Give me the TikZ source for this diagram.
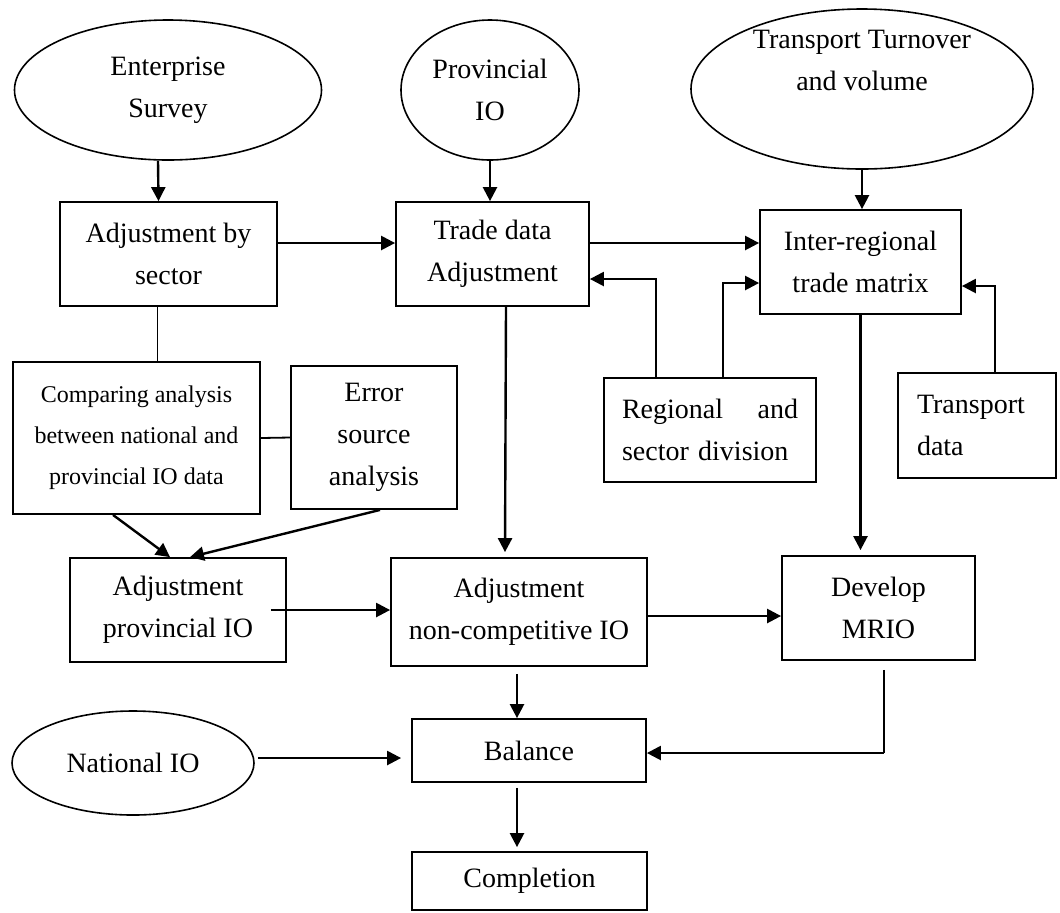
\documentclass[tikz,border=0pt]{standalone}
\usepackage{fontspec}
\setmainfont{Liberation Serif}
\usetikzlibrary{shapes}
\usetikzlibrary{arrows.meta}

\begin{document}
\begin{tikzpicture}[x=0.5pt,y=-0.5pt,
	box/.style={rectangle,draw,line width=0.9pt,inner sep=0pt,align=center,font=\fontsize{14}{21}\selectfont},
	oval/.style={ellipse,draw,line width=0.8pt,inner sep=0pt,align=center,font=\fontsize{14}{21}\selectfont},
	arr/.style={line width=1.2pt,-{Triangle[length=7pt,width=7pt]}},
	link/.style={line width=0.9pt}
	]
	\useasboundingbox (0,0) rectangle (1060,912);
	\node[oval,minimum width=153.5pt,minimum height=70pt](es) at (168,90) {Enterprise\\Survey};
	\node[oval,minimum width=89pt,minimum height=70pt](pio) at (490,90) {Provincial\\IO};
	\node[oval,minimum width=171pt,minimum height=80pt](tt) at (862,89) {};
	\node[align=center,font=\fontsize{14}{21}\selectfont](tttext) at (862,60) {Transport Turnover\\and volume};
	\node[box,minimum width=108.5pt,minimum height=52pt](sector) at (168.5,254) {Adjustment by\\sector};
	\node[box,minimum width=96.5pt,minimum height=52pt](trade) at (492.5,254) {Trade data\\Adjustment};
	\node[box,minimum width=100.5pt,minimum height=52pt](irt) at (860.5,262) {Inter-regional\\trade matrix};
	\node[box,minimum width=123.5pt,minimum height=76pt,font=\fontsize{12}{20.5}\selectfont](comp) at (136.5,438) {Comparing analysis\\between national and\\provincial IO data};
	\node[box,minimum width=83pt,minimum height=71.5pt](err) at (374,437.5) {Error\\source\\analysis};
	\node[box,minimum width=106pt,minimum height=52pt,text width=88pt,align=left](reg) at (710,430) {\makebox[88pt][l]{Regional\hfill and}\\sector division};
	\node[box,minimum width=79pt,minimum height=52.5pt,text width=60pt,align=left](tdat) at (977,425.5) {Transport\\data};
	\node[box,minimum width=108pt,minimum height=52pt](prov) at (178,610) {Adjustment\\provincial IO};
	\node[box,minimum width=128pt,minimum height=54pt](ncomp) at (519,612) {Adjustment\\non-competitive IO};
	\node[box,minimum width=96.5pt,minimum height=52pt](mrio) at (878.5,608) {Develop\\MRIO};
	\node[oval,minimum width=121pt,minimum height=52pt](nio) at (133,763) {National IO};
	\node[box,minimum width=117pt,minimum height=31.5pt](bal) at (529,750.5) {Balance};
	\node[box,minimum width=117.5pt,minimum height=29pt](compl) at (529.5,881) {Completion};

	\draw[arr] ([xshift=-5pt]es.south) -- ([xshift=-5pt]sector.north);
	\draw[arr] (pio.south) -- (pio.south |- trade.north);
	\draw[arr] (tt.south) -- (tt.south |- irt.north);
	\draw[arr] ([yshift=5.5pt]sector.east) -- ([yshift=5.5pt]trade.west);
	\draw[arr] ([yshift=5.5pt]trade.east) -- ([yshift=5.5pt]trade.east -| irt.west);
	\draw[link] ([xshift=-5.5pt]sector.south) -- ([xshift=-5.5pt]sector.south |- comp.north);
	\draw[link] (comp.east) -- (err.west);
	\draw[arr] ([xshift=-11.75pt]comp.south) -- ([xshift=-4pt]prov.north);
	\draw[arr] ([xshift=3pt]err.south) -- ([xshift=6pt]prov.north);
	\draw[arr] ([xshift=6.75pt]trade.south) -- ([xshift=-7pt,yshift=2.5pt]ncomp.north);
	\draw[arr] ([xshift=-27pt]reg.north) |- ([yshift=-12.5pt]trade.east);
	\draw[arr] ([xshift=6.5pt]reg.north) |- ([yshift=-10.5pt]irt.west);
	\draw[arr] ([xshift=9pt]tdat.north) |- ([yshift=-12pt]irt.east);
	\draw[arr] (irt.south) -- ([yshift=2.5pt]irt.south |- mrio.north);
	\draw[arr] ([xshift=-8pt]prov.east) -- (prov.east -| ncomp.west);
	\draw[arr] ([yshift=-2pt]ncomp.east) -- ([yshift=-2pt]ncomp.east -| mrio.west);
	\draw[arr] ([xshift=-1pt,yshift=-3.5pt]ncomp.south) -- ([xshift=-6pt]bal.north);
	\draw[arr] ([xshift=1.5pt,yshift=2.5pt]nio.east) -- ([xshift=-5pt,yshift=-3.75pt]bal.west);
	\draw[link] ([xshift=2.75pt,yshift=-4.5pt]mrio.south) -- ([xshift=2.75pt,yshift=-1.25pt]mrio.south |- bal.east);
	\draw[arr] ([xshift=2.75pt,yshift=-1.25pt]mrio.south |- bal.east) -- ([yshift=-1.25pt]bal.east);
	\draw[arr] ([xshift=-6pt,yshift=-2.5pt]bal.south) -- ([xshift=-6.25pt,yshift=2pt]compl.north);
\end{tikzpicture}
\end{document}
